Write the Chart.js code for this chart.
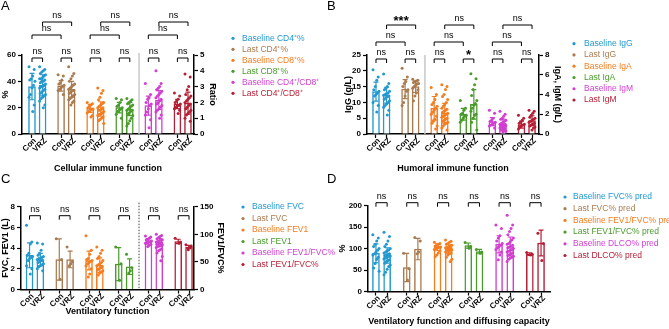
<!DOCTYPE html>
<html>
<head>
<meta charset="utf-8">
<script src="https://cdn.jsdelivr.net/npm/chart.js@4.4.1/dist/chart.umd.min.js"></script>
<style>
  body { margin: 0; background: #fff; width: 669px; height: 329px; position: relative; overflow: hidden; }
  canvas { position: absolute; }
</style>
</head>
<body>
<canvas id="cA" width="325" height="176" style="left:0;top:0"></canvas>
<canvas id="cB" width="344" height="176" style="left:325px;top:0"></canvas>
<canvas id="cC" width="335" height="156" style="left:0;top:173px"></canvas>
<canvas id="cD" width="344" height="156" style="left:325px;top:173px"></canvas>
<script>
const FONT = '"Liberation Sans", Arial, Helvetica, sans-serif';
const colors = ['#2399cf', '#a97b50', '#f47d20', '#4a9b2c', '#d13fd1', '#b51f35'];
const pairLabels = ['Con', 'VRZ'];

// ---- A : cellular immune function ----
const groupsA = ['Baseline CD4⁺%', 'Last CD4⁺%', 'Baseline CD8⁺%', 'Last CD8⁺%', 'Baseline CD4⁺/CD8⁺', 'Last CD4⁺/CD8⁺'];
const axisA = ['y', 'y', 'y', 'y', 'y1', 'y1'];
const meanA = [[36, 37], [36.5, 34], [19.5, 19], [20, 19], [1.8, 2.15], [1.9, 1.95]];
const sdA = [[10, 8], [4, 6], [3, 5.5], [4, 5], [0.6, 0.6], [0.3, 0.7]];
const pointsA = [
  [[51, 49, 44, 42, 41, 40, 37, 35, 30, 28, 22, 17],
   [51, 49, 48, 47, 46, 45, 44, 43, 42, 42, 41, 40, 40, 39, 38, 37, 36, 36, 35, 34, 33, 32, 31, 30, 29, 28, 27, 25, 22, 20]],
  [[45, 44, 41, 39, 38, 37, 36, 35, 34, 33, 30],
   [51, 46, 44, 42, 40, 38, 37, 36, 35, 34, 33, 33, 32, 31, 30, 29, 28, 27, 26, 25, 24, 22]],
  [[24, 23, 22, 21, 20, 19, 19, 18, 17, 16, 14, 13],
   [35, 33, 31, 28, 26, 24, 23, 22, 21, 20, 20, 19, 18, 18, 17, 16, 15, 15, 14, 13, 12, 11, 10, 8]],
  [[27, 26, 24, 22, 21, 20, 19, 18, 17, 15, 12],
   [27, 26, 25, 24, 23, 22, 21, 20, 19, 18, 18, 17, 16, 15, 14, 12, 10, 8, 6]],
  [[3.2, 2.5, 2.3, 2.2, 2.0, 1.9, 1.8, 1.6, 1.4, 1.2, 0.9, 0.4],
   [4.0, 3.2, 3.0, 2.9, 2.8, 2.7, 2.6, 2.5, 2.4, 2.3, 2.2, 2.1, 2.0, 1.9, 1.8, 1.7, 1.6, 1.5, 1.4, 1.2, 1.0]],
  [[2.6, 2.4, 2.2, 2.1, 2.0, 1.9, 1.8, 1.8, 1.7, 1.6, 1.5, 1.3],
   [3.8, 3.6, 3.0, 2.8, 2.5, 2.4, 2.3, 2.2, 2.1, 2.0, 1.9, 1.8, 1.7, 1.6, 1.5, 1.4, 1.3, 1.2, 1.0, 0.8]]
];
// [group, member, group, member, level, label]
const bracketsA = [
  [0, 0, 0, 1, 0, 'ns'], [1, 0, 1, 1, 0, 'ns'], [2, 0, 2, 1, 0, 'ns'], [3, 0, 3, 1, 0, 'ns'], [4, 0, 4, 1, 0, 'ns'], [5, 0, 5, 1, 0, 'ns'],
  [0, 0, 1, 0, 1, 'ns'], [0, 1, 1, 1, 2, 'ns'], [2, 0, 3, 0, 1, 'ns'], [2, 1, 3, 1, 2, 'ns'], [4, 0, 5, 0, 1, 'ns'], [4, 1, 5, 1, 2, 'ns']
];

// ---- B : humoral immune function ----
const groupsB = ['Baseline IgG', 'Last IgG', 'Baseline IgA', 'Last IgA', 'Baseline IgM', 'Last IgM'];
const axisB = ['y', 'y', 'y1', 'y1', 'y1', 'y1'];
const meanB = [[13.4, 12.3], [14.2, 15], [2.6, 2.1], [2.0, 3.0], [1.25, 1.0], [0.95, 1.35]];
const sdB = [[3, 2.5], [3, 1.8], [1.2, 1.0], [0.6, 1.5], [0.4, 0.5], [0.35, 0.5]];
const pointsB = [
  [[20.3, 18, 17, 15, 14, 13.5, 13, 12.5, 12, 10, 9, 7],
   [19, 16, 15, 14.5, 14, 13.5, 13, 12.8, 12.5, 12.3, 12, 11.8, 11.5, 11, 10.5, 10, 9.5, 9, 8.5, 7.5, 6]],
  [[20.8, 18, 16.6, 16, 15, 14, 13.5, 12, 10, 9],
   [17.3, 17, 16.8, 16.5, 16.3, 16, 15.8, 15.5, 15, 14.5, 14, 13, 12, 10.5]],
  [[4.7, 4.0, 3.5, 3.2, 3.0, 2.8, 2.6, 2.4, 2.2, 2.0, 1.8, 1.5, 1.3, 1.1, 0.8, 0.5],
   [5.0, 4.8, 4.5, 4.0, 3.8, 3.5, 3.2, 3.0, 2.8, 2.6, 2.5, 2.4, 2.3, 2.2, 2.1, 2.0, 1.9, 1.8, 1.7, 1.6, 1.5, 1.4, 1.3, 1.2, 1.1, 1.0, 0.8, 0.6, 0.4]],
  [[3.4, 2.6, 2.4, 2.1, 2.0, 1.9, 1.8, 1.6, 1.4, 1.2],
   [6.1, 5.6, 5.0, 4.5, 3.9, 3.4, 3.1, 2.9, 2.6, 2.3, 2.0, 1.9, 1.6, 1.2, 0.4]],
  [[2.4, 2.1, 1.6, 1.4, 1.3, 1.2, 1.1, 1.0, 0.9, 0.8, 0.6],
   [2.3, 2.0, 1.8, 1.6, 1.5, 1.4, 1.3, 1.2, 1.1, 1.0, 1.0, 0.9, 0.9, 0.8, 0.8, 0.7, 0.7, 0.6, 0.6, 0.5, 0.5, 0.4, 0.4, 0.3, 0.3, 0.2]],
  [[1.9, 1.6, 1.4, 1.2, 1.1, 1.0, 0.9, 0.8, 0.7, 0.5],
   [2.4, 2.3, 2.1, 1.9, 1.7, 1.6, 1.5, 1.4, 1.3, 1.2, 1.1, 1.0, 0.9, 0.8, 0.7, 0.6, 0.4]]
];
const bracketsB = [
  [0, 0, 0, 1, 0, 'ns'], [1, 0, 1, 1, 0, 'ns'], [2, 0, 2, 1, 0, 'ns'], [3, 0, 3, 1, 0, '*'], [4, 0, 4, 1, 0, 'ns'], [5, 0, 5, 1, 0, 'ns'],
  [0, 0, 1, 0, 1, 'ns'], [0, 1, 1, 1, 2, '***'], [2, 0, 3, 0, 1, 'ns'], [2, 1, 3, 1, 2, 'ns'], [4, 0, 5, 0, 1, 'ns'], [4, 1, 5, 1, 2, 'ns']
];

// ---- C : ventilatory function ----
const groupsC = ['Baseline FVC', 'Last FVC', 'Baseline FEV1', 'Last FEV1', 'Baseline FEV1/FVC%', 'Last FEV1/FVC%'];
const axisC = ['y', 'y', 'y', 'y', 'y1', 'y1'];
const meanC = [[3.3, 2.9], [2.9, 2.9], [2.8, 2.35], [2.45, 2.2], [87, 85], [87, 77]];
const sdC = [[1.2, 0.6], [2.0, 0.8], [0.9, 0.7], [1.6, 0.75], [5, 7], [4, 3]];
const pointsC = [
  [[6.2, 4.6, 4.4, 3.5, 3.3, 3.2, 3.1, 3.0, 2.8, 2.3, 2.0, 1.5],
   [4.5, 4.4, 3.8, 3.5, 3.3, 3.2, 3.1, 3.0, 3.0, 2.9, 2.8, 2.8, 2.7, 2.6, 2.5, 2.4, 2.3, 2.2, 2.0, 1.8]],
  [[4.9, 2.9, 1.0],
   [4.1, 2.7, 2.5, 2.3]],
  [[5.2, 3.8, 3.4, 3.0, 2.9, 2.8, 2.7, 2.6, 2.5, 2.3, 2.0, 1.5, 1.2],
   [4.1, 3.8, 3.5, 3.2, 3.0, 2.8, 2.6, 2.5, 2.4, 2.3, 2.2, 2.1, 2.0, 1.9, 1.8, 1.7, 1.6, 1.4]],
  [[4.1, 2.5, 0.9],
   [3.4, 2.1, 1.8, 1.6]],
  [[97, 95, 93, 91, 90, 88, 87, 86, 85, 84, 82, 80, 78],
   [100, 98, 96, 94, 92, 90, 89, 88, 87, 86, 85, 84, 83, 82, 81, 80, 79, 78, 76, 74, 72, 70, 66, 60, 52]],
  [[93, 86, 84],
   [81, 79, 78, 72]]
];
const bracketsC = [
  [0, 0, 0, 1, 0, 'ns'], [1, 0, 1, 1, 0, 'ns'], [2, 0, 2, 1, 0, 'ns'], [3, 0, 3, 1, 0, 'ns'], [4, 0, 4, 1, 0, 'ns'], [5, 0, 5, 1, 0, 'ns']
];

// ---- D : ventilatory function and diffusing capacity ----
const groupsD = ['Baseline FVC% pred', 'Last FVC% pred', 'Baseline FEV1/FVC% pred', 'Last FEV1/FVC% pred', 'Baseline DLCO% pred', 'Last DLCO% pred'];
const axisD = ['y', 'y', 'y', 'y', 'y', 'y'];
const meanD = [[89, 84], [56, 99], [103, 99], [107, 93], [110, 105], [87, 113]];
const sdD = [[22, 18], [33, 25], [8, 10], [6, 5], [20, 22], [3, 30]];
const pointsD = [
  [[132, 125, 118, 110, 105, 100, 96, 92, 88, 85, 80, 75, 65, 55, 47],
   [138, 128, 118, 110, 105, 100, 97, 95, 92, 90, 88, 86, 85, 84, 83, 82, 80, 78, 76, 74, 72, 70, 66, 62, 58, 52, 45, 39]],
  [[89, 53, 27],
   [126, 118, 92, 88]],
  [[115, 112, 110, 108, 106, 104, 103, 102, 100, 98, 95, 90, 85, 81],
   [120, 117, 115, 112, 110, 108, 106, 104, 103, 102, 101, 100, 99, 98, 97, 96, 95, 94, 92, 90, 88, 85, 80, 75, 70]],
  [[114, 105, 101],
   [98, 92, 89]],
  [[155, 147, 130, 125, 118, 112, 108, 105, 102, 98, 92, 85, 74],
   [178, 155, 147, 140, 132, 125, 120, 116, 112, 110, 108, 106, 104, 102, 100, 98, 96, 94, 92, 90, 88, 86, 84, 82, 80, 78, 75, 70]],
  [[91, 87, 85],
   [136, 112, 72]]
];
const bracketsD = [
  [0, 0, 0, 1, 0, 'ns'], [1, 0, 1, 1, 0, 'ns'], [2, 0, 2, 1, 0, 'ns'], [3, 0, 3, 1, 0, 'ns'], [4, 0, 4, 1, 0, 'ns'], [5, 0, 5, 1, 0, 'ns']
];

Chart.defaults.font.family = FONT;
Chart.defaults.color = '#000';

const GAP = 2.75; // distance between pairs, in bar slots
function pos(g, j) { return g * GAP + j; }
function jitter(k) { return (((k * 7) % 9) - 4) * 0.07; } // spread dots inside the bar

const tickFont = { family: FONT, size: 8, weight: 'bold' };
const titleFont = { family: FONT, size: 9, weight: 'bold' };

function yAxis(side, max, step, title, width) {
  return {
    position: side, min: 0, max: max,
    ticks: { stepSize: step, font: tickFont, color: '#000', padding: 2 },
    grid: { drawOnChartArea: false, tickLength: 4, tickColor: '#000', tickWidth: 1.2 },
    border: { color: '#000', width: 1.5 },
    title: { display: true, text: title, font: titleFont, color: '#000', padding: 0 },
    afterFit: s => { s.width = width; }
  };
}

function makePanel(id, P) {
  const datasets = [];
  ['y', 'y1'].forEach(ax => {
    const data = [], cols = [];
    P.groups.forEach((name, g) => {
      if (P.axis[g] !== ax) return;
      [0, 1].forEach(j => { data.push({ x: pos(g, j), y: P.mean[g][j] }); cols.push(colors[g]); });
    });
    if (!data.length) return;
    datasets.push({
      type: 'bar', data: data, yAxisID: ax, backgroundColor: '#fff', borderColor: cols,
      borderWidth: 1.5, grouped: false, barPercentage: 1, categoryPercentage: 1, maxBarThickness: 7, order: 3
    });
  });
  P.points.forEach((pair, g) => {
    const data = [];
    pair.forEach((arr, j) => arr.forEach((v, k) => data.push({ x: pos(g, j) + jitter(k), y: v })));
    datasets.push({
      type: 'scatter', data: data, yAxisID: P.axis[g], pointRadius: 1.5,
      pointBackgroundColor: colors[g], pointBorderWidth: 0, order: 1
    });
  });

  const tickPos = [];
  P.groups.forEach((n, g) => { tickPos.push(pos(g, 0), pos(g, 1)); });

  const L = P.layout;
  const scales = {
    x: {
      type: 'linear', min: L.xMin, max: L.xMax, offset: false,
      afterBuildTicks: s => { s.ticks = tickPos.map(v => ({ value: v })); },
      ticks: { autoSkip: false, minRotation: 45, maxRotation: 45, font: tickFont, color: '#000',
               padding: -2, labelOffset: 3, callback: (v, i) => pairLabels[i % 2] },
      grid: { offset: false, drawOnChartArea: false, tickLength: 4, tickColor: '#000', tickWidth: 1.2 },
      border: { color: '#000', width: 1.5 },
      title: { display: true, text: P.xTitle, font: titleFont, color: '#000', padding: 0 },
      afterFit: s => { s.height = L.xH; }
    },
    y: yAxis('left', P.yMax, P.yStep, P.yTitle, L.yW)
  };
  if (P.y1Title) scales.y1 = yAxis('right', P.y1Max, P.y1Step, P.y1Title, L.y1W);

  const decor = {
    id: 'decor',
    afterDatasetsDraw(chart) {
      const c = chart.ctx, x = chart.scales.x;
      c.save();
      c.lineWidth = 1.2;
      P.mean.forEach((m, g) => {
        const ys = chart.scales[P.axis[g]];
        [0, 1].forEach(j => {
          const px = x.getPixelForValue(pos(g, j));
          const top = ys.getPixelForValue(m[j] + P.sd[g][j]);
          const bot = ys.getPixelForValue(Math.max(0, m[j] - P.sd[g][j]));
          c.strokeStyle = colors[g];
          c.beginPath();
          c.moveTo(px, top); c.lineTo(px, bot);
          c.moveTo(px - 2.5, top); c.lineTo(px + 2.5, top);
          c.moveTo(px - 2.5, bot); c.lineTo(px + 2.5, bot);
          c.stroke();
        });
      });
      c.restore();
    },
    afterDraw(chart) {
      const c = chart.ctx, x = chart.scales.x, a = chart.chartArea;
      c.save();
      // separator between the two y-axis families
      if (P.sep) {
        const sx = x.getPixelForValue(pos(P.sep.after, 1) + (GAP - 1) / 2);
        c.beginPath();
        if (P.sep.dotted) { c.setLineDash([1.5, 1.5]); c.strokeStyle = '#444'; c.lineWidth = 1; }
        else { c.strokeStyle = '#c8c8c8'; c.lineWidth = 1.5; }
        c.moveTo(sx, a.top - P.sep.ext); c.lineTo(sx, a.bottom);
        c.stroke();
        c.setLineDash([]);
      }
      // significance brackets
      c.strokeStyle = '#000'; c.lineWidth = 1; c.fillStyle = '#000'; c.textAlign = 'center';
      P.brackets.forEach(b => {
        const x1 = x.getPixelForValue(pos(b[0], b[1]));
        const x2 = x.getPixelForValue(pos(b[2], b[3]));
        const y = a.top + L.levels[b[4]];
        c.beginPath();
        c.moveTo(x1, y + 4); c.lineTo(x1, y); c.lineTo(x2, y); c.lineTo(x2, y + 4);
        c.stroke();
        if (b[5].startsWith('*')) {
          c.font = 'bold 13px ' + FONT; c.textBaseline = 'middle';
          c.fillText(b[5], (x1 + x2) / 2, y - 4);
        } else {
          c.font = '9px ' + FONT; c.textBaseline = 'bottom';
          c.fillText(b[5], (x1 + x2) / 2, y - 1.5);
        }
      });
      // legend
      c.textAlign = 'left'; c.textBaseline = 'middle'; c.font = '8.5px ' + FONT;
      P.groups.forEach((name, g) => {
        const ly = L.legY + g * L.legDy;
        c.fillStyle = colors[g];
        c.beginPath(); c.arc(L.legDot, ly, 1.6, 0, Math.PI * 2); c.fill();
        c.fillText(name, L.legText, ly);
      });
      // panel letter
      c.fillStyle = '#000'; c.font = '13px ' + FONT; c.textBaseline = 'alphabetic';
      c.fillText(P.letter, L.letX, L.letY);
      c.restore();
    }
  };

  return new Chart(document.getElementById(id), {
    type: 'bar',
    data: { datasets: datasets },
    options: {
      responsive: false, animation: false, devicePixelRatio: 1, events: [],
      layout: { padding: L.pad },
      plugins: { legend: { display: false }, tooltip: { enabled: false } },
      scales: scales
    },
    plugins: [decor]
  });
}

makePanel('cA', {
  letter: 'A', groups: groupsA, axis: axisA, mean: meanA, sd: sdA, points: pointsA, brackets: bracketsA,
  yMax: 60, yStep: 20, yTitle: '%', y1Max: 5, y1Step: 1, y1Title: 'Ratio', xTitle: 'Cellular immune function',
  sep: { after: 3, dotted: false, ext: 2 },
  layout: { pad: { left: 0, top: 55, right: 107, bottom: 2.5 }, yW: 22, y1W: 24, xH: 39.5,
            xMin: -0.945, xMax: 15.32, levels: [3, -20, -33],
            legDot: 233, legText: 242, legY: 38.3, legDy: 11, letX: 1, letY: 10 }
});

makePanel('cB', {
  letter: 'B', groups: groupsB, axis: axisB, mean: meanB, sd: sdB, points: pointsB, brackets: bracketsB,
  yMax: 25, yStep: 5, yTitle: 'IgG (g/L)', y1Max: 8, y1Step: 2, y1Title: 'IgA, IgM (g/L)', xTitle: 'Humoral immune function',
  sep: { after: 1, dotted: false, ext: 0 },
  layout: { pad: { left: 18, top: 55, right: 106, bottom: 2.5 }, yW: 24, y1W: 24, xH: 39.5,
            xMin: -0.85, xMax: 15.41, levels: [4, -13, -30],
            legDot: 249, legText: 259, legY: 43.7, legDy: 11.26, letX: 2, letY: 10 }
});

makePanel('cC', {
  letter: 'C', groups: groupsC, axis: axisC, mean: meanC, sd: sdC, points: pointsC, brackets: bracketsC,
  yMax: 8, yStep: 2, yTitle: 'FVC, FEV1 (L)', y1Max: 150, y1Step: 50, y1Title: 'FEV1/FVC%', xTitle: 'Ventilatory function',
  sep: { after: 3, dotted: true, ext: 4 },
  layout: { pad: { left: 0, top: 33.7, right: 109, bottom: 11.6 }, yW: 21, y1W: 32, xH: 27.9,
            xMin: -0.79, xMax: 15.21, levels: [9],
            legDot: 243, legText: 252, legY: 34, legDy: 11.5, letX: 1, letY: 10 }
});

makePanel('cD', {
  letter: 'D', groups: groupsD, axis: axisD, mean: meanD, sd: sdD, points: pointsD, brackets: bracketsD,
  yMax: 200, yStep: 50, yTitle: '%', xTitle: 'Ventilatory function and diffusing capacity',
  sep: null,
  layout: { pad: { left: 12, top: 32.7, right: 119, bottom: 1.9 }, yW: 31, xH: 35.6,
            xMin: -0.71, xMax: 15.55, levels: [-3],
            legDot: 240, legText: 248, legY: 24, legDy: 11.7, letX: 2, letY: 10 }
});
</script>
</body>
</html>
